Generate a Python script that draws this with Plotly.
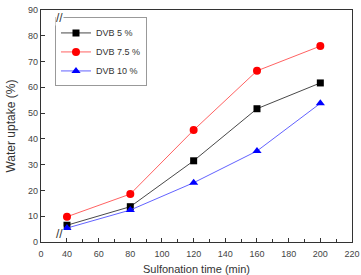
import plotly.graph_objects as go

time_min = [40, 80, 120, 160, 200]
dvb5 = [6.5, 13.7, 31.5, 51.7, 61.7]
dvb75 = [9.8, 18.6, 43.4, 66.4, 76.0]
dvb10 = [5.4, 12.4, 23.0, 35.3, 53.8]

x_tickvals = [23.6, 40, 60, 80, 100, 120, 140, 160, 180, 200, 220]
x_ticktext = ["0", "40", "60", "80", "100", "120", "140", "160", "180", "200", "220"]
x_minor = [50, 70, 90, 110, 130, 150, 170, 190, 210]
y_tickvals = [0, 10, 20, 30, 40, 50, 60, 70, 80, 90]

font_family = "Liberation Sans, Arial, sans-serif"

fig = go.Figure()
fig.add_trace(go.Scatter(x=time_min, y=dvb5, name="DVB 5 %", mode="lines+markers",
                         line=dict(color="#333333", width=0.9),
                         marker=dict(symbol="square", size=7, color="black")))
fig.add_trace(go.Scatter(x=time_min, y=dvb75, name="DVB 7.5 %", mode="lines+markers",
                         line=dict(color="#ff5050", width=0.9),
                         marker=dict(symbol="circle", size=8, color="#ff0000")))
fig.add_trace(go.Scatter(x=time_min, y=dvb10, name="DVB 10 %", mode="lines+markers",
                         line=dict(color="#5050ff", width=0.9),
                         marker=dict(symbol="triangle-up", size=8, color="#0000ff")))

axis_color = "#333333"
fig.update_layout(
    width=361, height=275,
    margin=dict(l=41, r=9, t=10, b=33),
    plot_bgcolor="white", paper_bgcolor="white",
    font=dict(family=font_family, size=9, color="#444444"),
    showlegend=True,
    legend=dict(x=0.045, y=0.968, xanchor="left", yanchor="top",
                bgcolor="white", bordercolor="#999999", borderwidth=1,
                font=dict(size=9, color="#333333"), itemwidth=30,
                tracegroupgap=0),
    xaxis=dict(range=[23.6, 220], tickmode="array", tickvals=x_tickvals, ticktext=x_ticktext,
               ticks="inside", ticklen=4, tickcolor=axis_color, showgrid=False, zeroline=False,
               showline=True, linecolor=axis_color, linewidth=1.2, mirror=True,
               ticklabelstandoff=3, automargin=False,
               minor=dict(tickmode="array", tickvals=x_minor, ticks="inside", ticklen=2.5, tickcolor=axis_color),
               title=dict(text="Sulfonation time (min)", font=dict(size=11, color="#333333")),
               tickfont=dict(size=9, color="#444444")),
    yaxis=dict(range=[0, 90], tickmode="array", tickvals=y_tickvals,
               ticks="inside", ticklen=4, tickcolor=axis_color, showgrid=False, zeroline=False,
               showline=True, linecolor=axis_color, linewidth=1.2, mirror=True,
               automargin=False,
               tickfont=dict(size=9, color="#444444")),
)

# y-axis title
fig.add_annotation(x=-0.098, y=0.5, xref="paper", yref="paper", text="Water uptake (%)",
                   textangle=-90, showarrow=False, xanchor="center", yanchor="middle",
                   font=dict(size=12, color="#333333"))

# axis break marks
for yp in [0, 1]:
    fig.add_annotation(x=0.045, y=yp, xref="paper", yref="paper", text="//",
                       showarrow=False, font=dict(size=12, color="#333333"),
                       bgcolor="white", borderpad=0)

fig.write_html("out.html")
